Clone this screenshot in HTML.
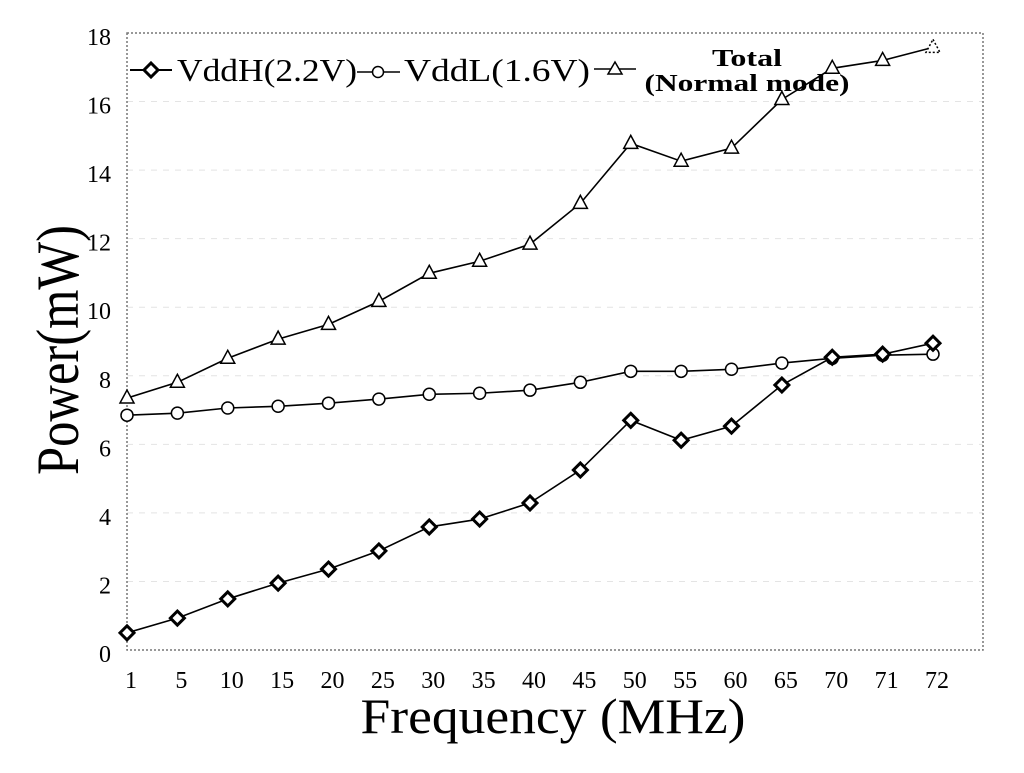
<!DOCTYPE html>
<html><head><meta charset="utf-8"><style>
body{margin:0;background:#fff;}
svg{display:block;font-family:"Liberation Serif",serif;}
</style></head><body>
<svg id="chart" width="1024" height="773" viewBox="0 0 1024 773" xmlns="http://www.w3.org/2000/svg">
<rect x="0" y="0" width="1024" height="773" fill="#fff"/>
<g id="grid"></g>
<rect x="127" y="33" width="856" height="617" fill="none" stroke="#777" stroke-width="1.5" stroke-dasharray="2,2"/>
<g id="yticks" font-size="24" text-anchor="end"></g>
<g id="xticks" font-size="24" text-anchor="middle"></g>
<g id="series"></g>
<text x="0" y="0" transform="translate(78,350) rotate(-90)" text-anchor="middle" font-size="60" textLength="250" lengthAdjust="spacingAndGlyphs">Power(mW)</text>
<text x="553" y="733" text-anchor="middle" font-size="50" textLength="385" lengthAdjust="spacingAndGlyphs">Frequency (MHz)</text>
<g>
  <g>
    <line x1="130" y1="70" x2="172" y2="70" stroke="#000" stroke-width="2"/>
    <path d="M151 63 L158 70 L151 77 L144 70 Z" fill="#fff" stroke="#000" stroke-width="3"/>
    <text x="177" y="81" font-size="32" textLength="180" lengthAdjust="spacingAndGlyphs">VddH(2.2V)</text>
  </g>
  <g>
    <line x1="357" y1="72" x2="400" y2="72" stroke="#000" stroke-width="1.5"/>
    <circle cx="378" cy="72" r="5.5" fill="#fff" stroke="#000" stroke-width="1.5"/>
    <text x="404" y="81" font-size="32" textLength="186" lengthAdjust="spacingAndGlyphs">VddL(1.6V)</text>
  </g>
  <g>
    <line x1="594" y1="69" x2="636" y2="69" stroke="#000" stroke-width="1.5"/>
    <path d="M615 62 L622 74 L608 74 Z" fill="#fff" stroke="#000" stroke-width="1.5"/>
    <text x="747" y="66" font-size="24" font-weight="bold" text-anchor="middle" textLength="70" lengthAdjust="spacingAndGlyphs">Total</text>
    <text x="747" y="91" font-size="24" font-weight="bold" text-anchor="middle" textLength="205" lengthAdjust="spacingAndGlyphs">(Normal mode)</text>
  </g>
</g>
</svg>
<script>
const categories = ["1","5","10","15","20","25","30","35","40","45","50","55","60","65","70","71","72"];
const vddH = [0.5,0.93,1.49,1.95,2.36,2.89,3.59,3.82,4.29,5.25,6.7,6.12,6.53,7.73,8.54,8.63,8.95];
const vddL = [6.85,6.91,7.06,7.11,7.2,7.32,7.46,7.49,7.58,7.81,8.13,8.13,8.19,8.37,8.51,8.6,8.63];
const total = [7.35,7.81,8.51,9.07,9.5,10.17,10.99,11.34,11.84,13.03,14.78,14.26,14.64,16.06,16.97,17.2,17.58];
const yTicks = [0,2,4,6,8,10,12,14,16,18];

const NS = "http://www.w3.org/2000/svg";
const x0 = 127, x1 = 933, yBottom = 650, yTop = 33, yMax = 18;
function xScale(i){ return x0 + (x1 - x0) * i / (categories.length - 1); }
function yScale(v){ return yBottom - (yBottom - yTop) * v / yMax; }
function mk(tag, attrs, parent){ const e = document.createElementNS(NS, tag); for (const k in attrs) e.setAttribute(k, attrs[k]); parent.appendChild(e); return e; }

const grid = document.getElementById('grid');
const yt = document.getElementById('yticks');
yTicks.forEach(v => {
  if (v > 0 && v < yMax) {
    const l = mk('line', {x1: x0, x2: 983, y1: yScale(v), y2: yScale(v), stroke: '#e4e4e4', 'stroke-width': 1, 'stroke-dasharray': '6,6'}, grid);
    
    
  }
  const t = mk('text', {x: 111, y: yScale(v) + 12}, yt);
  t.textContent = v;
  
  
});
const xt = document.getElementById('xticks');
categories.forEach((c, i) => {
  const t = mk('text', {x: xScale(i) + 4, y: 688}, xt);
  t.textContent = c;
  
  
});

const sg = document.getElementById('series');
function drawSeries(vals, name, marker) {
  const g = mk('g', {}, sg);
  
  
  const pl = mk('polyline', {points: vals.map((v, i) => xScale(i) + ',' + yScale(v)).join(' '), fill: 'none', stroke: '#000', 'stroke-width': 1.6}, g);
  
  
  vals.forEach((v, i) => {
    const cx = xScale(i), cy = yScale(v);
    let m;
    if (marker === 'diamond') m = mk('path', {d: `M${cx} ${cy-7} L${cx+7} ${cy} L${cx} ${cy+7} L${cx-7} ${cy} Z`, fill: '#fff', stroke: '#000', 'stroke-width': 3}, g);
    else if (marker === 'circle') m = mk('circle', {cx: cx, cy: cy, r: 6, fill: '#fff', stroke: '#000', 'stroke-width': 1.5}, g);
    else {
      m = mk('path', {d: `M${cx} ${cy-8} L${cx+7} ${cy+5} L${cx-7} ${cy+5} Z`, fill: '#fff', stroke: '#000', 'stroke-width': 1.5}, g);
      if (i === vals.length - 1) m.setAttribute('stroke-dasharray', '2,2');
    }
    
    
  });
}
drawSeries(vddL, 'vddl', 'circle');
drawSeries(total, 'total', 'triangle');
drawSeries(vddH, 'vddh', 'diamond');
</script>
</body></html>
